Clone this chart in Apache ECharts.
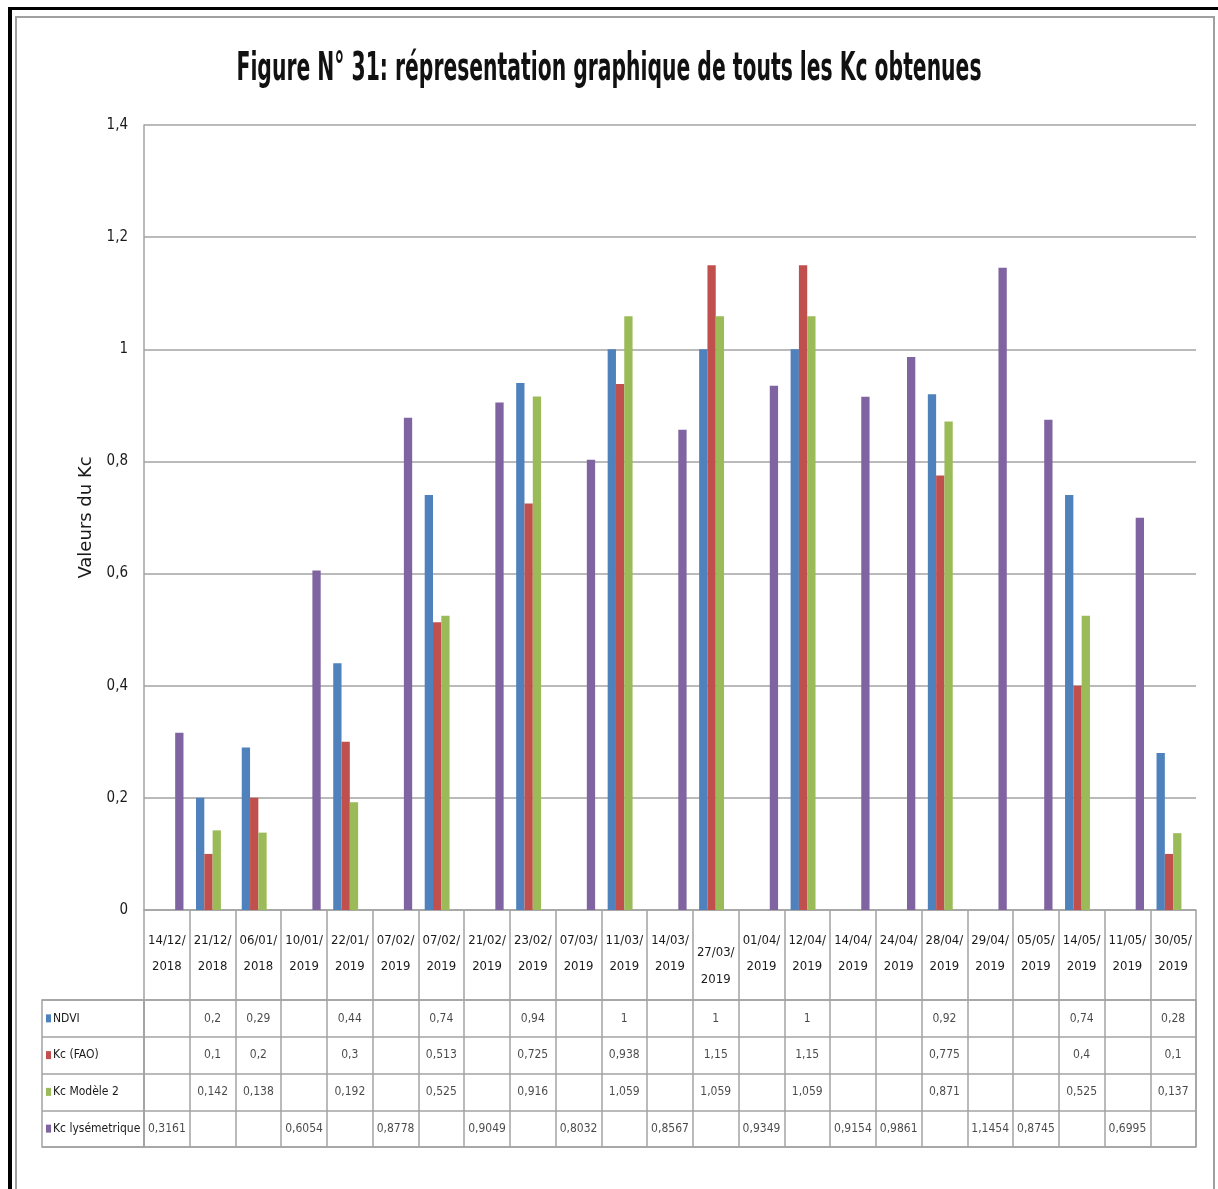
<!DOCTYPE html>
<html>
<head>
<meta charset="utf-8">
<script src="https://cdn.jsdelivr.net/npm/echarts@6/dist/echarts.min.js"></script>
<style>
  html, body { margin: 0; padding: 0; background: #fff; }
  #chart { position: absolute; left: 0; top: 0; width: 1218px; height: 1189px; }
  .frame { position: absolute; pointer-events: none; }
</style>
</head>
<body>
<div id="chart"></div>
<div class="frame" style="left:8px;top:7px;width:1210px;height:3px;background:#000;"></div>
<div class="frame" style="left:8px;top:7px;width:4px;height:1182px;background:#000;"></div>
<div class="frame" style="left:15px;top:16px;width:1196px;height:1180px;border-top:2px solid #a0a0a0;border-left:2px solid #a0a0a0;border-right:2px solid #a0a0a0;"></div>
<script>
// ---- data ----
var categories = ['14/12/2018','21/12/2018','06/01/2018','10/01/2019','22/01/2019','07/02/2019','07/02/2019','21/02/2019','23/02/2019','07/03/2019','11/03/2019','14/03/2019','27/03/2019','01/04/2019','12/04/2019','14/04/2019','24/04/2019','28/04/2019','29/04/2019','05/05/2019','14/05/2019','11/05/2019','30/05/2019'];
var seriesNames = ['NDVI', 'Kc (FAO)', 'Kc Modèle 2', 'Kc lysémetrique'];
var ndvi      = [null, 0.2, 0.29, null, 0.44, null, 0.74, null, 0.94, null, 1, null, 1, null, 1, null, null, 0.92, null, null, 0.74, null, 0.28];
var kcFao     = [null, 0.1, 0.2, null, 0.3, null, 0.513, null, 0.725, null, 0.938, null, 1.15, null, 1.15, null, null, 0.775, null, null, 0.4, null, 0.1];
var kcModele2 = [null, 0.142, 0.138, null, 0.192, null, 0.525, null, 0.916, null, 1.059, null, 1.059, null, 1.059, null, null, 0.871, null, null, 0.525, null, 0.137];
var kcLysi    = [0.3161, null, null, 0.6054, null, 0.8778, null, 0.9049, null, 0.8032, null, 0.8567, null, 0.9349, null, 0.9154, 0.9861, null, 1.1454, 0.8745, null, 0.6995, null];
var yTicks = { min: 0, max: 1.4, interval: 0.2 };
var titleText = 'Figure N° 31: répresentation graphique de touts les Kc obtenues';
var yAxisTitle = 'Valeurs du Kc';

var colors = ['#4F81BD', '#C0504D', '#9BBB59', '#8064A2'];
var allSeries = [ndvi, kcFao, kcModele2, kcLysi];
var NARROW = "'DejaVu Sans Condensed', 'Liberation Sans Narrow', sans-serif";
var GRAY = '#a3a3a3';
var TXT = '#1a1a1a';

function fmt(v) { return String(v).replace('.', ','); }

// table cell data built from the arrays
var tableData = [];
allSeries.forEach(function (arr, r) {
  arr.forEach(function (v, i) { if (v !== null) tableData.push([i, r, v]); });
});

var rich = { t: { fontFamily: NARROW, fontSize: 12, color: TXT, padding: [0, 0, 0, 2] } };
colors.forEach(function (c, k) {
  rich['s' + k] = { width: 5, height: 8, backgroundColor: c };
});

var catRich = {
  lo1: { fontFamily: NARROW, fontSize: 13, color: TXT, lineHeight: 50 },
  lo2: { fontFamily: NARROW, fontSize: 13, color: TXT, lineHeight: 4 }
};

var chart = echarts.init(document.getElementById('chart'), null, { renderer: 'canvas' });
var option = {
  animation: false,
  graphic: [{
    type: 'text', left: 'center', top: 50, scaleY: 1.7, silent: true,
    style: { text: titleText, fontFamily: NARROW, fontWeight: 'bold', fontSize: 22.6, fill: '#111' }
  }],
  grid: [
    { left: 144, right: 22, top: 125, bottom: 279, show: false },
    { left: 144, right: 22, top: 1000, height: 147, show: true, borderColor: GRAY, borderWidth: 1.5, backgroundColor: 'transparent' },
    { left: 42, width: 102, top: 1000, height: 147, show: true, borderColor: GRAY, borderWidth: 1.5, backgroundColor: 'transparent' }
  ],
  xAxis: [
    {
      type: 'category', gridIndex: 0, data: categories,
      axisLine: { show: true, lineStyle: { color: GRAY, width: 1.5 } },
      axisTick: { show: true, interval: 0, length: 90, lineStyle: { color: GRAY, width: 1.5 } },
      axisLabel: {
        interval: 0, margin: 18, fontFamily: NARROW, fontSize: 13, color: TXT, lineHeight: 26,
        rich: catRich,
        formatter: function (v, i) {
          var parts = v.match(/^(\d+\/\d+\/)(\d+)$/);
          if (i === 12) return '{lo1|' + parts[1] + '}\n{lo2|' + parts[2] + '}';
          return parts[1] + '\n' + parts[2];
        }
      },
      splitLine: { show: false }
    },
    {
      type: 'category', gridIndex: 1, data: categories, position: 'top',
      axisLine: { show: false }, axisTick: { show: false }, axisLabel: { show: false },
      splitLine: { show: true, interval: 0, lineStyle: { color: GRAY, width: 1.5 } }
    }
  ],
  yAxis: [
    {
      type: 'value', gridIndex: 0, min: yTicks.min, max: yTicks.max, interval: yTicks.interval,
      name: yAxisTitle, nameLocation: 'middle', nameGap: 48,
      nameTextStyle: { fontFamily: "'DejaVu Sans', sans-serif", fontSize: 18, color: TXT },
      axisLine: { show: true, lineStyle: { color: GRAY, width: 1.5 } },
      axisTick: { show: false },
      axisLabel: { margin: 16, fontFamily: NARROW, fontSize: 15, color: TXT, formatter: fmt },
      splitLine: { show: true, lineStyle: { color: GRAY, width: 1.5 } }
    },
    {
      type: 'category', gridIndex: 1, data: seriesNames, inverse: true,
      axisLine: { show: false },
      axisTick: { show: true, interval: 0, length: 102, lineStyle: { color: GRAY, width: 1.5 } },
      axisLabel: {
        interval: 0, margin: 98, align: 'left', rich: rich,
        formatter: function (v, i) { return '{s' + i + '|}{t|' + v + '}'; }
      },
      splitLine: { show: true, interval: 0, lineStyle: { color: GRAY, width: 1.5 } }
    }
  ],
  series: [
    { name: seriesNames[0], type: 'bar', data: ndvi, xAxisIndex: 0, yAxisIndex: 0, barWidth: 8.3, barGap: '0%', itemStyle: { color: colors[0] } },
    { name: seriesNames[1], type: 'bar', data: kcFao, xAxisIndex: 0, yAxisIndex: 0, barWidth: 8.3, barGap: '0%', itemStyle: { color: colors[1] } },
    { name: seriesNames[2], type: 'bar', data: kcModele2, xAxisIndex: 0, yAxisIndex: 0, barWidth: 8.3, barGap: '0%', itemStyle: { color: colors[2] } },
    { name: seriesNames[3], type: 'bar', data: kcLysi, xAxisIndex: 0, yAxisIndex: 0, barWidth: 8.3, barGap: '0%', itemStyle: { color: colors[3] } },
    {
      name: 'table', type: 'scatter', xAxisIndex: 1, yAxisIndex: 1, data: tableData,
      symbolSize: 1, itemStyle: { color: 'rgba(0,0,0,0)' }, silent: true,
      label: {
        show: true, position: 'inside', fontFamily: NARROW, fontSize: 12, color: TXT,
        formatter: function (p) { return fmt(p.value[2]); }
      }
    }
  ]
};
chart.setOption(option);
</script>
</body>
</html>
